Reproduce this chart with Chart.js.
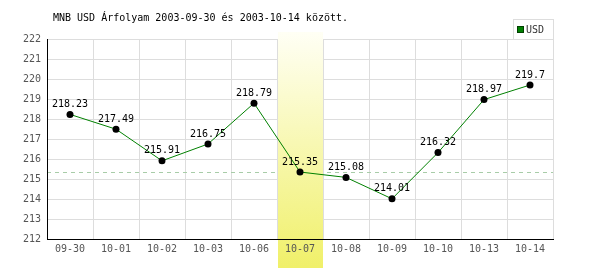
<!DOCTYPE html>
<html>
<head>
<meta charset="utf-8">
<script src="https://cdn.jsdelivr.net/npm/chart.js@4.4.1/dist/chart.umd.min.js"></script>
<style>
  html, body { margin: 0; padding: 0; background: #fff; }
</style>
</head>
<body>
<canvas id="myChart" width="600" height="270"></canvas>
<script>
// data
const days = ['09-30', '10-01', '10-02', '10-03', '10-06', '10-07', '10-08', '10-09', '10-10', '10-13', '10-14'];
const usdRates = [218.23, 217.49, 215.91, 216.75, 218.79, 215.35, 215.08, 214.01, 216.32, 218.97, 219.7];
const yMin = 212;
const yMax = 222;
const highlightDay = '10-07';
const refRate = 215.35;
const titleText = 'MNB USD Árfolyam 2003-09-30 és 2003-10-14 között.';
const seriesName = 'USD';

const FONT = "'DejaVu Sans Mono', 'Liberation Mono', monospace";

// band, dashed line, value labels, title and legend
const extras = {
    id: 'extras',
    beforeDatasetsDraw(chart) {
        const c = chart.ctx;
        const area = chart.chartArea;
        const x = chart.scales.x;
        const y = chart.scales.y;

        // dashed reference line
        const ry = y.getPixelForValue(refRate);
        c.save();
        c.strokeStyle = '#a8cca8';
        c.lineWidth = 1;
        c.setLineDash([4, 4]);
        c.beginPath();
        c.moveTo(area.left, Math.round(ry) + 0.5);
        c.lineTo(area.right, Math.round(ry) + 0.5);
        c.stroke();
        c.restore();

        // highlighted day band
        const i = days.indexOf(highlightDay);
        const half = (x.getPixelForValue(1) - x.getPixelForValue(0)) / 2;
        const cx = x.getPixelForValue(i);
        const top = area.top - 7;
        const bottom = chart.height - 2;
        const g = c.createLinearGradient(0, top, 0, bottom);
        g.addColorStop(0, 'rgba(255,255,245,1)');
        g.addColorStop(1, 'rgba(240,240,105,1)');
        c.save();
        c.fillStyle = g;
        c.fillRect(Math.round(cx - half) + 1, top, Math.round(half * 2) - 1, bottom - top);
        c.restore();
    },
    afterDatasetsDraw(chart) {
        const c = chart.ctx;
        const meta = chart.getDatasetMeta(0);
        c.save();
        c.font = '10px ' + FONT;
        c.fillStyle = '#000';
        c.textAlign = 'center';
        c.textBaseline = 'bottom';
        meta.data.forEach((pt, i) => {
            c.fillText(String(usdRates[i]), pt.x, pt.y - 5);
        });
        c.restore();
    },
    afterDraw(chart) {
        const c = chart.ctx;
        const area = chart.chartArea;
        c.save();
        // title
        c.font = '10px ' + FONT;
        c.fillStyle = '#000';
        c.textBaseline = 'middle';
        c.textAlign = 'left';
        c.fillText(titleText, area.left + 6, 18);

        // legend
        const lw = 40, lh = 20;
        const lx = area.right - lw, ly = area.top - lh;
        c.fillStyle = '#fff';
        c.fillRect(lx, ly, lw, lh);
        c.strokeStyle = '#dddddd';
        c.lineWidth = 1;
        c.strokeRect(lx + 0.5, ly + 0.5, lw, lh);
        c.fillStyle = '#008000';
        c.fillRect(lx + 4, ly + 7, 7, 7);
        c.strokeStyle = '#004000';
        c.strokeRect(lx + 4.5, ly + 7.5, 6, 6);
        c.fillStyle = '#333';
        c.fillText(seriesName, lx + 13, ly + 11);
        c.restore();
    }
};

const ctx = document.getElementById('myChart');

const myChart = new Chart(ctx, {
    type: 'line',
    data: {
        labels: days,
        datasets: [{
            label: seriesName,
            data: usdRates,
            borderColor: '#008000',
            borderWidth: 1,
            tension: 0,
            pointRadius: 3.5,
            pointBackgroundColor: '#000',
            pointBorderColor: '#000',
            pointBorderWidth: 0
        }]
    },
    options: {
        responsive: false,
        animation: false,
        layout: {
            padding: { left: 0, right: 47, top: 39, bottom: 0 }
        },
        plugins: {
            legend: { display: false },
            title: { display: false },
            tooltip: { enabled: false }
        },
        scales: {
            x: {
                offset: true,
                grid: { offset: true, color: '#dddddd', drawTicks: false },
                border: { color: '#000', width: 1, z: 1 },
                ticks: {
                    color: '#555',
                    font: { family: FONT, size: 10 },
                    padding: 4,
                    maxRotation: 0,
                    autoSkip: false,
                    z: 1
                },
                afterFit(scale) { scale.height = 31; }
            },
            y: {
                min: yMin,
                max: yMax,
                grid: { color: '#dddddd', drawTicks: false },
                border: { color: '#000', width: 1, z: 1 },
                ticks: {
                    stepSize: 1,
                    color: '#555',
                    font: { family: FONT, size: 10 },
                    padding: 6,
                    z: 1
                },
                afterFit(scale) { scale.width = 47; }
            }
        }
    },
    plugins: [extras]
});
</script>
</body>
</html>
